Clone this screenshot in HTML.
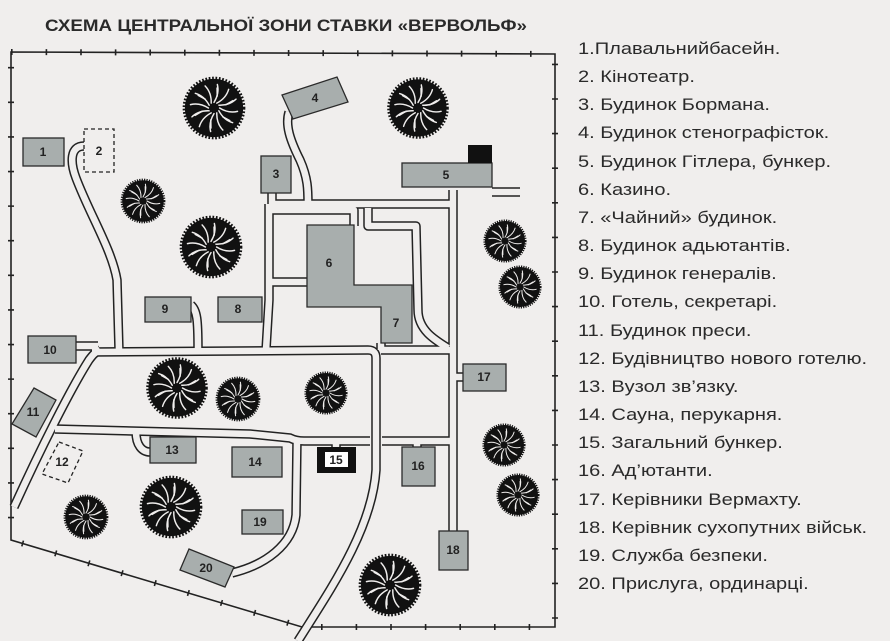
<!DOCTYPE html>
<html><head><meta charset="utf-8"><style>
html,body{margin:0;padding:0;background:#f0eeed;}
svg{display:block}
.b{fill:#a8aead;stroke:#2a2a2a;stroke-width:1.3}
.l{font:bold 12px "Liberation Sans",sans-serif;fill:#222;text-anchor:middle;dominant-baseline:central}
.lg{font:17px "Liberation Sans","Noto Sans CJK SC",sans-serif;fill:#2a2a2a}
.rd{fill:none;stroke:#222;stroke-width:9.5;stroke-linejoin:round;stroke-linecap:butt}
.rl{fill:none;stroke:#f0eeed;stroke-width:6.5;stroke-linejoin:round;stroke-linecap:butt}
</style></head><body>
<svg width="890" height="641" viewBox="0 0 890 641" xmlns="http://www.w3.org/2000/svg">
<defs>
<g id="tr">
<circle r="26" fill="#111"/>
<circle r="26.5" fill="none" stroke="#111" stroke-width="3" stroke-dasharray="1.5 1.5"/>
<g stroke="#f0eeed" stroke-width="1.3" fill="none" stroke-linecap="round">
<path d="M0,-5 Q5,-13 3,-21" transform="rotate(0)"/>
<path d="M0,-5 Q5,-13 3,-21" transform="rotate(30)"/>
<path d="M0,-5 Q5,-13 3,-21" transform="rotate(60)"/>
<path d="M0,-5 Q5,-13 3,-21" transform="rotate(90)"/>
<path d="M0,-5 Q5,-13 3,-21" transform="rotate(120)"/>
<path d="M0,-5 Q5,-13 3,-21" transform="rotate(150)"/>
<path d="M0,-5 Q5,-13 3,-21" transform="rotate(180)"/>
<path d="M0,-5 Q5,-13 3,-21" transform="rotate(210)"/>
<path d="M0,-5 Q5,-13 3,-21" transform="rotate(240)"/>
<path d="M0,-5 Q5,-13 3,-21" transform="rotate(270)"/>
<path d="M0,-5 Q5,-13 3,-21" transform="rotate(300)"/>
<path d="M0,-5 Q5,-13 3,-21" transform="rotate(330)"/>
<path d="M0,-11 L-2,-18" transform="rotate(15)"/>
<path d="M0,-11 L-2,-18" transform="rotate(75)"/>
<path d="M0,-11 L-2,-18" transform="rotate(135)"/>
<path d="M0,-11 L-2,-18" transform="rotate(195)"/>
<path d="M0,-11 L-2,-18" transform="rotate(255)"/>
<path d="M0,-11 L-2,-18" transform="rotate(315)"/>
</g>
</g>
</defs>

<text x="286" y="31" text-anchor="middle" font-family="Liberation Sans,sans-serif" font-weight="bold" font-size="17" fill="#2a2a2a" textLength="482" lengthAdjust="spacingAndGlyphs">СХЕМА ЦЕНТРАЛЬНОЇ ЗОНИ СТАВКИ «ВЕРВОЛЬФ»</text>

<path d="M11,52 L555,54 L555,627 L302,627 L11,540 Z" fill="none" stroke="#222" stroke-width="1.6"/>
<path d="M11,52 L555,54 L555,627 L302,627 L11,540 Z" fill="none" stroke="#222" stroke-width="6" stroke-dasharray="1.6 33"/>

<g class="rd">
<path d="M84,146 C70,146 70,162 76,178 C90,215 112,250 117,280 L119,350"/>
<path d="M76,346 L98,346"/>
<path d="M100,350 C95,352 92,356 89,360 C70,390 40,450 14,507"/>
<path d="M92,352 L368,350 Q376,350 376,358 L376,470 C372,530 330,590 298,641"/>
<path d="M55,429 L250,434 L290,438 Q296,441 304,441 L370,441"/>
<path d="M382,441 L453,441"/>
<path d="M297,441 L296,515 C293,545 265,565 232,573"/>
<path d="M381,350 L453,350"/>
<path d="M453,190 L453,533"/>
<path d="M453,377 L464,377"/>
<path d="M492,192 L520,192"/>
<path d="M269,204 L453,204"/>
<path d="M289,112 C285,125 290,140 300,160 C308,178 308,190 308,204"/>
<path d="M269,204 L269,300 L266,350"/>
<path d="M272,193 L272,204"/>
<path d="M269,210 L354,210 L354,226"/>
<path d="M269,282 L307,282"/>
<path d="M368,208 L368,226 L416,226 L418,310 C418,330 435,340 448,348"/>
<path d="M191,305 C197,310 198,320 198,349"/>
<path d="M136,432 C136,445 142,452 150,452"/>
<path d="M336,441 L336,448"/>
<path d="M417,441 L417,448"/>
<path d="M381,343 L381,350"/>
</g>
<g class="rl">
<path d="M84,146 C70,146 70,162 76,178 C90,215 112,250 117,280 L119,350"/>
<path d="M76,346 L98,346"/>
<path d="M100,350 C95,352 92,356 89,360 C70,390 40,450 14,507"/>
<path d="M92,352 L368,350 Q376,350 376,358 L376,470 C372,530 330,590 298,641"/>
<path d="M55,429 L250,434 L290,438 Q296,441 304,441 L370,441"/>
<path d="M382,441 L453,441"/>
<path d="M297,441 L296,515 C293,545 265,565 232,573"/>
<path d="M381,350 L453,350"/>
<path d="M453,190 L453,533"/>
<path d="M453,377 L464,377"/>
<path d="M492,192 L520,192"/>
<path d="M269,204 L453,204"/>
<path d="M289,112 C285,125 290,140 300,160 C308,178 308,190 308,204"/>
<path d="M269,204 L269,300 L266,350"/>
<path d="M272,193 L272,204"/>
<path d="M269,210 L354,210 L354,226"/>
<path d="M269,282 L307,282"/>
<path d="M368,208 L368,226 L416,226 L418,310 C418,330 435,340 448,348"/>
<path d="M191,305 C197,310 198,320 198,349"/>
<path d="M136,432 C136,445 142,452 150,452"/>
<path d="M336,441 L336,448"/>
<path d="M417,441 L417,448"/>
<path d="M381,343 L381,350"/>
</g>

<use href="#tr" transform="translate(214,108) scale(1.12)"/>
<use href="#tr" transform="translate(418,108) scale(1.1)"/>
<use href="#tr" transform="translate(143,201) scale(0.8)"/>
<use href="#tr" transform="translate(211,247) scale(1.12)"/>
<use href="#tr" transform="translate(505,241) scale(0.77)"/>
<use href="#tr" transform="translate(520,287) scale(0.77)"/>
<use href="#tr" transform="translate(177,388) scale(1.1)"/>
<use href="#tr" transform="translate(238,399) scale(0.8)"/>
<use href="#tr" transform="translate(326,393) scale(0.77)"/>
<use href="#tr" transform="translate(504,445) scale(0.77)"/>
<use href="#tr" transform="translate(518,495) scale(0.77)"/>
<use href="#tr" transform="translate(86,517) scale(0.8)"/>
<use href="#tr" transform="translate(171,507) scale(1.12)"/>
<use href="#tr" transform="translate(390,585) scale(1.12)"/>

<rect class="b" x="23" y="138" width="41" height="28"/><text class="l" x="43" y="152">1</text>
<rect x="84" y="129" width="30" height="43" fill="none" stroke="#222" stroke-width="1.3" stroke-dasharray="4 3"/><text class="l" x="99" y="151">2</text>
<rect class="b" x="261" y="156" width="30" height="37"/><text class="l" x="276" y="174">3</text>
<polygon class="b" points="282,95 337,77 348,102 293,119"/><text class="l" x="315" y="98">4</text>
<rect class="b" x="402" y="163" width="90" height="24"/><text class="l" x="446" y="175">5</text>
<rect x="468" y="145" width="24" height="18" fill="#111"/>
<polygon class="b" points="307,225 354,225 354,285 412,285 412,343 381,343 381,307 307,307"/>
<text class="l" x="329" y="263">6</text><text class="l" x="396" y="323">7</text>
<rect class="b" x="218" y="297" width="44" height="25"/><text class="l" x="238" y="309">8</text>
<rect class="b" x="145" y="297" width="46" height="25"/><text class="l" x="165" y="309">9</text>
<rect class="b" x="28" y="336" width="48" height="27"/><text class="l" x="50" y="350">10</text>
<polygon class="b" points="34,388 56,400 36,437 12,424"/><text class="l" x="33" y="412">11</text>
<polygon points="59,442 83,451 68,483 42,474" fill="none" stroke="#222" stroke-width="1.3" stroke-dasharray="4 3"/><text class="l" x="62" y="462">12</text>
<rect class="b" x="150" y="437" width="46" height="26"/><text class="l" x="172" y="450">13</text>
<rect class="b" x="232" y="447" width="50" height="30"/><text class="l" x="255" y="462">14</text>
<rect x="317" y="447" width="39" height="26" fill="#111"/><rect x="325" y="452" width="23" height="15" fill="#fff"/><text class="l" x="336" y="460">15</text>
<rect class="b" x="402" y="447" width="33" height="39"/><text class="l" x="418" y="466">16</text>
<rect class="b" x="463" y="364" width="43" height="27"/><text class="l" x="484" y="377">17</text>
<rect class="b" x="439" y="531" width="29" height="39"/><text class="l" x="453" y="550">18</text>
<rect class="b" x="242" y="510" width="41" height="24"/><text class="l" x="260" y="522">19</text>
<polygon class="b" points="189,549 234,567 225,587 180,570"/><text class="l" x="206" y="568">20</text>

<g class="lg" transform="translate(578,0) scale(1.18,1)">
<text x="0" y="54">1.Плавальнийбасейн.</text>
<text x="0" y="82">2. Кінотеатр.</text>
<text x="0" y="110">3. Будинок Бормана.</text>
<text x="0" y="138">4. Будинок стенографісток.</text>
<text x="0" y="167">5. Будинок Гітлера, бункер.</text>
<text x="0" y="195">6. Казино.</text>
<text x="0" y="223">7. «Чайний» будинок.</text>
<text x="0" y="251">8. Будинок адьютантів.</text>
<text x="0" y="279">9. Будинок генералів.</text>
<text x="0" y="307">10. Готель, секретарі.</text>
<text x="0" y="336">11. Будинок преси.</text>
<text x="0" y="364">12. Будівництво нового готелю.</text>
<text x="0" y="392">13. Вузол зв’язку.</text>
<text x="0" y="420">14. Сауна, перукарня.</text>
<text x="0" y="448">15. Загальний бункер.</text>
<text x="0" y="476">16. Ад’ютанти.</text>
<text x="0" y="505">17. Керівники Вермахту.</text>
<text x="0" y="533">18. Керівник сухопутних військ.</text>
<text x="0" y="561">19. Служба безпеки.</text>
<text x="0" y="589">20. Прислуга, ординарці.</text>
</g>
</svg>
</body></html>
